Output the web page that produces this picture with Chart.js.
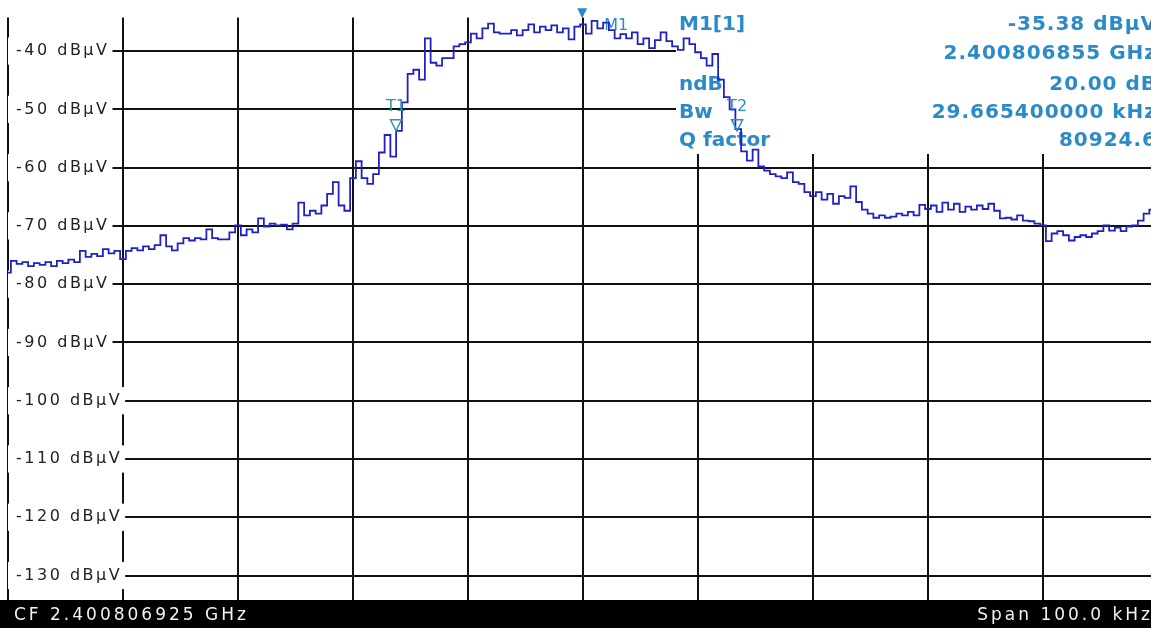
<!DOCTYPE html>
<html><head><meta charset="utf-8">
<script src="https://cdn.jsdelivr.net/npm/chart.js@4.4.1/dist/chart.umd.min.js"></script>
<style>html,body{margin:0;padding:0;overflow:hidden;background:#fff}#wrap{width:1166px;height:628px}</style>
</head><body><div id="wrap"><canvas id="c" width="1166" height="628"></canvas></div>
<script>
// Sweep: offset from centre frequency in kHz (start, step), level in dBµV
const startKHz = -50;
const stepKHz = 0.5;
const levels = [
-78.0,-76.0,-76.5,-76.2,-76.9,-76.4,-76.7,-76.2,-76.9,-76.0,
-76.4,-75.8,-76.2,-74.3,-75.3,-74.8,-75.2,-74.0,-74.7,-74.3,
-75.7,-74.3,-73.8,-74.2,-73.5,-74.0,-73.3,-71.6,-73.5,-74.2,
-73.0,-72.1,-72.5,-72.1,-72.3,-70.6,-72.1,-72.3,-72.3,-71.1,
-69.9,-71.6,-70.6,-71.1,-68.7,-70.1,-69.6,-69.9,-69.8,-70.6,
-69.6,-66.0,-68.2,-67.4,-67.9,-66.5,-64.5,-62.5,-66.5,-67.4,
-61.8,-58.9,-61.8,-62.8,-61.1,-57.4,-54.4,-58.1,-53.7,-48.8,
-43.9,-43.2,-44.9,-37.8,-42.0,-42.5,-41.2,-41.2,-39.2,-38.8,
-38.5,-37.0,-37.8,-36.1,-35.3,-36.8,-37.0,-37.0,-36.4,-37.3,
-36.4,-35.4,-36.8,-35.8,-36.4,-35.6,-36.8,-36.1,-38.0,-35.8,
-35.4,-37.0,-34.8,-36.1,-35.1,-36.4,-37.8,-37.1,-37.8,-36.8,
-38.8,-37.8,-39.5,-38.1,-36.8,-38.3,-39.2,-39.8,-37.8,-38.8,
-40.2,-41.2,-42.5,-40.5,-44.9,-47.9,-50.0,-53.4,-57.2,-58.8,
-56.9,-59.8,-60.5,-61.1,-61.5,-61.8,-60.8,-62.5,-62.8,-64.2,
-64.9,-64.2,-65.5,-64.5,-66.2,-64.9,-65.2,-63.2,-65.9,-67.2,
-67.9,-68.6,-68.2,-68.6,-68.4,-67.9,-68.2,-67.6,-68.2,-66.4,
-67.1,-66.5,-67.6,-66.0,-67.2,-66.2,-67.6,-66.7,-67.2,-66.5,
-67.1,-66.2,-67.4,-68.7,-68.6,-68.9,-68.2,-69.1,-69.2,-69.6,
-69.9,-72.6,-71.3,-70.9,-71.6,-72.5,-71.9,-71.6,-71.9,-71.3,
-70.9,-69.9,-70.8,-70.3,-70.9,-70.1,-69.9,-69.1,-67.9,-67.2,
-66.9
];
const freqs = levels.map((_, i) => startKHz + i * stepKHz);

const yMin = -134.2, yMax = -34.25;
const yTickValues = [-130, -120, -110, -100, -90, -80, -70, -60, -50, -40];
const xTickValues = [-50, -40, -30, -20, -10, 0, 10, 20, 30, 40, 50];
const tickUnit = ' dBµV';

const markerNames = ['M1', 'T1', 'T2'];
const markerFreq = [-0.07, -16.26, 13.40];
const markerLevel = [-35.38, -55.38, -55.38];

const infoLabels = ['M1[1]', '', 'ndB', 'Bw', 'Q factor'];
const infoValues = ['-35.38 dBµV', '2.400806855 GHz', '20.00 dB', '29.665400000 kHz', '80924.6'];
const footerLeft = 'CF 2.400806925 GHz';
const footerRight = 'Span 100.0 kHz';

const BLUE = '#2b8bc8';
const TEAL = '#2f9a9e';

const spacingPlugin = {
  id: 'spacing',
  beforeUpdate(c) { c.ctx.letterSpacing = '2.5px'; },
  beforeDraw(c) { c.ctx.letterSpacing = '2.5px'; }
};

const panelPlugin = {
  id: 'panel',
  beforeDatasetsDraw(c) {
    const ctx = c.ctx;
    ctx.save();
    ctx.fillStyle = '#ffffff';
    ctx.fillRect(676, 0, c.width - 676, 154);
    ctx.fillStyle = BLUE;
    ctx.font = 'bold 20px "DejaVu Sans"';
    ctx.textBaseline = 'middle';
    const rows = [25, 54, 85, 113, 141];
    ctx.letterSpacing = '0px';
    ctx.textAlign = 'left';
    infoLabels.forEach((t, i) => { if (t) ctx.fillText(t, 679, rows[i]); });
    ctx.letterSpacing = '1px';
    ctx.textAlign = 'right';
    infoValues.forEach((t, i) => ctx.fillText(t, 1157, rows[i]));
    const xs = c.scales.x, ys = c.scales.y;
    ctx.letterSpacing = '0px';
    ctx.textAlign = 'left';
    ctx.font = '16px "DejaVu Sans"';
    ctx.fillText(markerNames[0], xs.getPixelForValue(markerFreq[0]) + 22, ys.getPixelForValue(markerLevel[0]) + 2);
    ctx.restore();
  }
};

const markerPlugin = {
  id: 'markers',
  afterDatasetsDraw(c) {
    const ctx = c.ctx, xs = c.scales.x, ys = c.scales.y;
    ctx.save();
    ctx.letterSpacing = '0px';
    let px = xs.getPixelForValue(markerFreq[0]), py = ys.getPixelForValue(markerLevel[0]);
    ctx.fillStyle = BLUE;
    ctx.beginPath();
    ctx.moveTo(px - 5, py - 16); ctx.lineTo(px + 5, py - 16); ctx.lineTo(px, py - 6); ctx.closePath();
    ctx.fill();
    for (let i = 1; i < markerNames.length; i++) {
      px = xs.getPixelForValue(markerFreq[i]); py = ys.getPixelForValue(markerLevel[i]);
      const col = i === 1 ? TEAL : BLUE;
      ctx.strokeStyle = col; ctx.fillStyle = col; ctx.lineWidth = 1.5;
      ctx.beginPath();
      ctx.moveTo(px - 5.5, py - 21); ctx.lineTo(px + 5.5, py - 21); ctx.lineTo(px, py - 10); ctx.closePath();
      ctx.stroke();
      ctx.font = '16px "DejaVu Sans"';
      ctx.textAlign = 'center'; ctx.textBaseline = 'middle';
      ctx.fillText(markerNames[i], px, py - 34);
    }
    ctx.restore();
  }
};

const footerPlugin = {
  id: 'footer',
  afterDraw(c) {
    const ctx = c.ctx, a = c.chartArea;
    ctx.save();
    ctx.fillStyle = '#000';
    ctx.fillRect(0, a.bottom, c.width, c.height - a.bottom);
    ctx.fillStyle = '#f2f2f2';
    ctx.font = '17px "DejaVu Sans"';
    ctx.textBaseline = 'middle';
    ctx.letterSpacing = '3px';
    ctx.textAlign = 'left';
    ctx.fillText(footerLeft, 14, a.bottom + 16);
    ctx.textAlign = 'right';
    ctx.fillText(footerRight, 1153, a.bottom + 16);
    ctx.restore();
  }
};

new Chart(document.getElementById('c'), {
  type: 'line',
  data: {
    datasets: [{
      data: freqs.map((f, i) => ({ x: f, y: levels[i] })),
      borderColor: '#2020c8',
      borderWidth: 1.8,
      pointRadius: 0,
      stepped: 'middle',
      fill: false
    }]
  },
  options: {
    responsive: false,
    animation: false,
    devicePixelRatio: 1,
    layout: { padding: { left: 8, top: 9, right: 8, bottom: 28 } },
    plugins: { legend: { display: false }, tooltip: { enabled: false } },
    scales: {
      x: {
        type: 'linear', min: -50, max: 50, bounds: 'data',
        ticks: { display: false },
        grid: { color: '#111111', lineWidth: 2, drawTicks: false },
        border: { display: false },
        afterBuildTicks: s => { s.ticks = xTickValues.map(v => ({ value: v })); },
        afterFit: s => { s.height = 0; }
      },
      y: {
        type: 'linear', min: yMin, max: yMax, bounds: 'data',
        ticks: {
          mirror: true, padding: 8,
          color: '#222', font: { family: 'DejaVu Sans', size: 16 },
          callback: v => v + tickUnit,
          showLabelBackdrop: true, backdropColor: '#ffffff',
          backdropPadding: { left: 8, right: 3, top: 4, bottom: 4 }
        },
        grid: { color: '#111111', lineWidth: 2, drawTicks: false },
        border: { display: false },
        afterBuildTicks: s => { s.ticks = yTickValues.map(v => ({ value: v })); },
        afterFit: s => { s.width = 0; }
      }
    }
  },
  plugins: [spacingPlugin, panelPlugin, markerPlugin, footerPlugin]
});
</script>
</body></html>
